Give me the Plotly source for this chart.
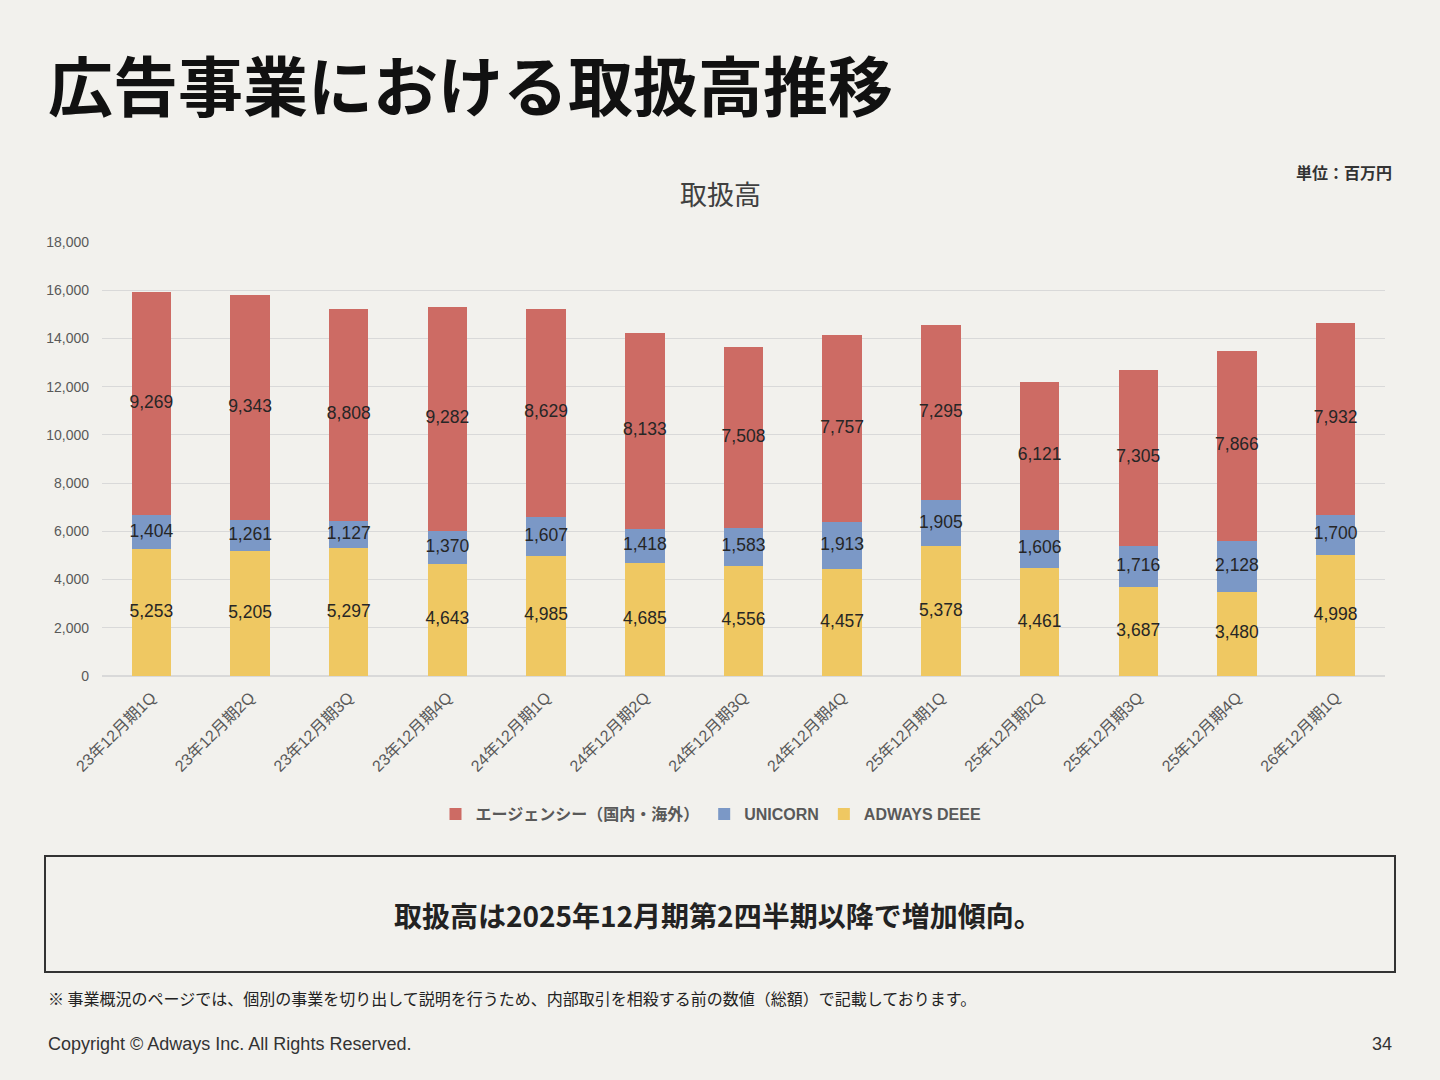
import plotly.graph_objects as go

categories = ["23年12月期1Q", "23年12月期2Q", "23年12月期3Q", "23年12月期4Q",
              "24年12月期1Q", "24年12月期2Q", "24年12月期3Q", "24年12月期4Q",
              "25年12月期1Q", "25年12月期2Q", "25年12月期3Q", "25年12月期4Q",
              "26年12月期1Q"]
agency = [9269, 9343, 8808, 9282, 8629, 8133, 7508, 7757, 7295, 6121, 7305, 7866, 7932]
unicorn = [1404, 1261, 1127, 1370, 1607, 1418, 1583, 1913, 1905, 1606, 1716, 2128, 1700]
deee = [5253, 5205, 5297, 4643, 4985, 4685, 4556, 4457, 5378, 4461, 3687, 3480, 4998]
y_ticks = [0, 2000, 4000, 6000, 8000, 10000, 12000, 14000, 16000, 18000]

W, H = 1440, 1080
L, R, T, B = 102, 1385, 242, 676
BG = "#F2F1ED"
FONT = "Liberation Sans, Noto Sans CJK JP, sans-serif"
JP = "Noto Sans CJK JP, sans-serif"


def px(x):
    return (x - L) / (R - L)


def py(y):
    return (B - y) / (B - T)


fig = go.Figure()
series = [("ADWAYS DEEE", deee, "#EFC862"),
          ("UNICORN", unicorn, "#7B98C6"),
          ("エージェンシー（国内・海外）", agency, "#CD6B64")]
base = [0] * len(categories)
for name, vals, col in series:
    fig.add_trace(go.Bar(x=categories, y=vals, name=name, marker_color=col,
                         marker_line_width=0, hoverinfo="skip"))
    mids = [b + v / 2 for b, v in zip(base, vals)]
    fig.add_trace(go.Scatter(x=categories, y=mids, mode="text",
                             text=[f"{v:,}" for v in vals], showlegend=False,
                             textfont=dict(family=FONT, size=17.5, color="#262626"),
                             cliponaxis=False, hoverinfo="skip"))
    base = [b + v for b, v in zip(base, vals)]

fig.update_layout(
    width=W, height=H, barmode="stack", bargap=0.6,
    paper_bgcolor=BG, plot_bgcolor=BG,
    margin=dict(l=L, r=W - R, t=T, b=H - B, pad=0, autoexpand=False),
    showlegend=True,
    legend=dict(orientation="h", x=px(711), xanchor="center", y=py(814), yanchor="middle",
                traceorder="reversed",
                font=dict(family=FONT, size=16, color="#595959", weight="bold"),
                itemwidth=30, bgcolor="rgba(0,0,0,0)"),
    xaxis=dict(tickangle=-45, tickfont=dict(family=FONT, size=16, color="#595959"),
               showgrid=False, ticks="", showline=False, automargin=False,
               ticklabelstandoff=8, range=[-0.5, len(categories) - 0.5]),
    yaxis=dict(range=[0, 18000], tickvals=y_ticks, tickformat=",",
               tickfont=dict(family=FONT, size=14, color="#595959"),
               gridcolor="#D9D9D9", gridwidth=1, zeroline=True, zerolinecolor="#D9D9D9",
               ticks="", ticklabelstandoff=12, automargin=False),
)

ann = [
    dict(text="<b>広告事業における取扱高推移</b>", x=px(46), y=py(83), xanchor="left",
         yanchor="middle", font=dict(family=JP, size=65, color="#111111")),
    dict(text="<b>単位：百万円</b>", x=px(1394), y=py(172), xanchor="right", yanchor="middle",
         font=dict(family=JP, size=16, color="#333333")),
    dict(text="取扱高", x=px(720), y=py(193), xanchor="center", yanchor="middle",
         font=dict(family=JP, size=27, color="#404040")),
    dict(text="<b>取扱高は2025年12月期第2四半期以降で増加傾向。</b>", x=px(718), y=py(915),
         xanchor="center", yanchor="middle", font=dict(family=JP, size=28, color="#222222")),
    dict(text="※ 事業概況のページでは、個別の事業を切り出して説明を行うため、内部取引を相殺する前の数値（総額）で記載しております。",
         x=px(46), y=py(998), xanchor="left", yanchor="middle",
         font=dict(family=JP, size=16, color="#222222")),
    dict(text="Copyright © Adways Inc. All Rights Reserved.", x=px(46), y=py(1044),
         xanchor="left", yanchor="middle", font=dict(family=FONT, size=18, color="#333333")),
    dict(text="34", x=px(1394), y=py(1044), xanchor="right", yanchor="middle",
         font=dict(family=FONT, size=18, color="#333333")),
]
for a in ann:
    a.update(xref="paper", yref="paper", showarrow=False)
fig.update_layout(annotations=ann)

fig.add_shape(type="rect", xref="paper", yref="paper", x0=px(45), x1=px(1395),
              y0=py(856), y1=py(972), line=dict(color="#333333", width=2),
              fillcolor="rgba(0,0,0,0)")

fig.write_html("out.html")
